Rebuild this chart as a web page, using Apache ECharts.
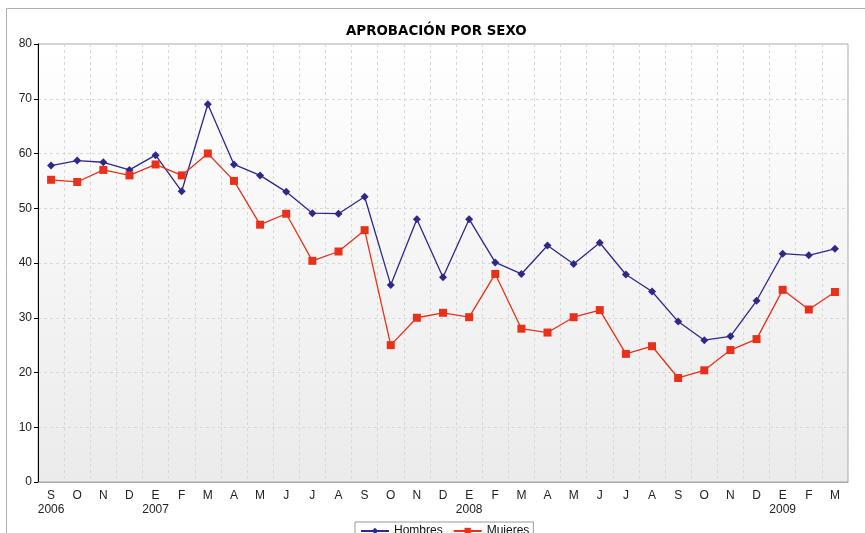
<!DOCTYPE html>
<html><head><meta charset="utf-8">
<script src="https://cdn.jsdelivr.net/npm/echarts@6/dist/echarts.min.js"></script>
<style>html,body{margin:0;padding:0;background:#fff}#c{width:865px;height:533px}</style>
</head><body><div id="c"></div>
<script>
var months = ['S','O','N','D','E','F','M','A','M','J','J','A','S','O','N','D','E','F','M','A','M','J','J','A','S','O','N','D','E','F','M'];
var years = {0:'2006',4:'2007',16:'2008',28:'2009'};
var hombres = [57.8,58.7,58.4,57.0,59.7,53.1,69.0,58.0,56.0,53.0,49.1,49.0,52.1,36.0,48.0,37.4,48.0,40.1,38.0,43.2,39.8,43.7,37.9,34.8,29.3,25.9,26.6,33.1,41.7,41.4,42.6];
var mujeres = [55.2,54.8,57.0,56.0,58.0,56.0,60.0,55.0,47.0,49.0,40.4,42.1,46.0,25.0,30.0,30.9,30.1,38.0,28.0,27.3,30.1,31.4,23.4,24.8,19.0,20.4,24.1,26.1,35.1,31.5,34.7];
var yTicks = [0,10,20,30,40,50,60,70,80];

var chart = echarts.init(document.getElementById('c'), null, {renderer:'canvas'});
chart.setOption({
  animation:false,
  backgroundColor:'#fff',
  graphic:[{type:'rect', shape:{x:6.5,y:8.5,width:950,height:600}, style:{fill:'none',stroke:'#b0b0b0',lineWidth:1}, z:-10}],
  title:{text:'APROBACIÓN POR SEXO', left:341, top:20,
    textStyle:{fontFamily:'DejaVu Sans', fontWeight:'bold', fontSize:13.4, color:'#000'}},
  legend:{top:522, left:355, itemGap:10, itemWidth:28, itemHeight:8,
    borderColor:'#999', borderWidth:1, padding:[3,4,10,5],
    textStyle:{fontFamily:'Liberation Sans', fontSize:12, color:'#111'},
    data:['Hombres','Mujeres']},
  grid:{left:38, right:17, top:44, bottom:51, show:true,
    backgroundColor:new echarts.graphic.LinearGradient(0,0,0,1,[{offset:0,color:'#ffffff'},{offset:1,color:'#ebebeb'}]),
    borderColor:'#a8a8a8', borderWidth:1},
  xAxis:{type:'category', data:months, boundaryGap:true,
    axisLine:{lineStyle:{color:'#a8a8a8'}}, axisTick:{show:false},
    axisLabel:{interval:0, margin:7, fontFamily:'Liberation Sans', fontSize:12, color:'#222', lineHeight:14,
      formatter:function(v,i){return years[i]? v+'\n'+years[i] : v;}},
    splitLine:{show:true, interval:0, lineStyle:{color:'#d8d8d8', type:[3,3]}}},
  yAxis:{type:'value', min:yTicks[0], max:yTicks[yTicks.length-1], interval:10,
    axisLine:{show:true, lineStyle:{color:'#000'}}, axisTick:{show:true, length:4, lineStyle:{color:'#000'}},
    axisLabel:{margin:6, fontFamily:'Liberation Sans', fontSize:12, color:'#222'},
    splitLine:{show:true, lineStyle:{color:'#d8d8d8', type:[3,3]}}},
  series:[
    {name:'Hombres', type:'line', data:hombres, symbol:'diamond', symbolSize:8,
      lineStyle:{color:'#2e2888', width:1.3}, itemStyle:{color:'#2e2888'}},
    {name:'Mujeres', type:'line', data:mujeres, symbol:'rect', symbolSize:8,
      lineStyle:{color:'#e8311a', width:1.3}, itemStyle:{color:'#e8311a'}}
  ]
});
</script></body></html>
